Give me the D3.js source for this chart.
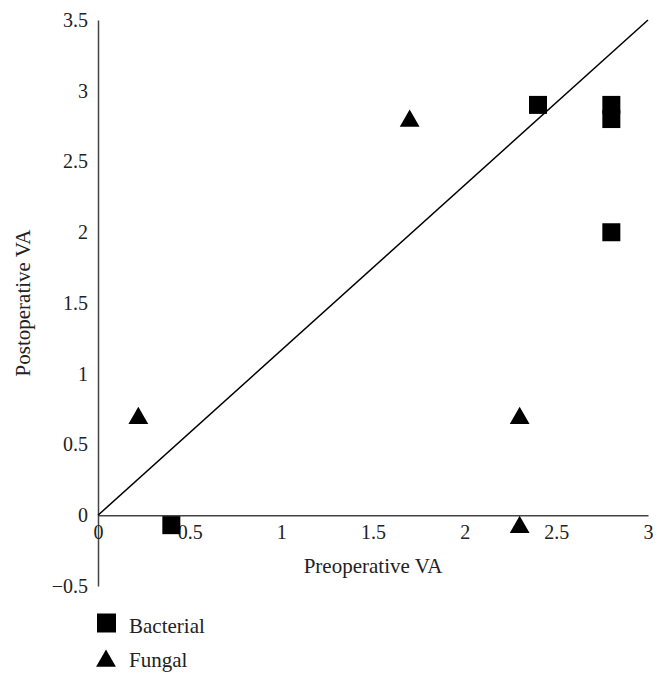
<!DOCTYPE html>
<html>
<head>
<meta charset="utf-8">
<script src="https://cdn.jsdelivr.net/npm/d3@7"></script>
<style>
  html, body { margin: 0; padding: 0; background: #fff; }
  svg { display: block; }
  svg text { font-family: "Liberation Serif", "Times New Roman", Times, serif !important; fill: #222; }
</style>
</head>
<body>
<svg id="chart" width="666" height="687"></svg>
<script>
// Data
const bacterialX = [0.4, 2.4, 2.8, 2.8, 2.8];
const bacterialY = [-0.07, 2.9, 2.9, 2.8, 2.0];
const fungalX = [0.22, 1.7, 2.3, 2.3];
const fungalY = [0.7, 2.8, 0.7, -0.07];
const xTicks = [0, 0.5, 1, 1.5, 2, 2.5, 3];
const yTicks = [-0.5, 0, 0.5, 1, 1.5, 2, 2.5, 3, 3.5];
const refLineX = [0, 3];
const refLineY = [0, 3.5];
const seriesNames = ["Bacterial", "Fungal"];

const FS = 20;
const TFS = 21;
const svg = d3.select("#chart");
const x = d3.scaleLinear().domain([0, 3]).range([98, 648]);
const y = d3.scaleLinear().domain([-0.5, 3.5]).range([586, 20]);

const axisColor = "#444";

// Y axis line (no tick marks)
const yAxis = d3.axisLeft(y).tickValues(yTicks).tickSize(0).tickPadding(10)
  .tickFormat(d => d < 0 ? "\u2212" + Math.abs(d) : String(d));
const gy = svg.append("g").attr("transform", `translate(${x(0)},0)`).call(yAxis);
gy.attr("font-family", null).attr("font-size", null);
gy.select(".domain").attr("stroke", axisColor).attr("stroke-width", 1.5);
gy.selectAll("text").attr("font-size", FS).attr("fill", "#222");

// X axis at y=0
const xAxis = d3.axisBottom(x).tickValues(xTicks).tickSize(0).tickPadding(10)
  .tickFormat(d => String(d));
const gx = svg.append("g").attr("transform", `translate(0,${y(0)})`).call(xAxis);
gx.attr("font-family", null).attr("font-size", null);
gx.select(".domain").attr("stroke", axisColor).attr("stroke-width", 1.5);
gx.selectAll("text").attr("font-size", FS).attr("fill", "#222");

// Axis titles
svg.append("text").attr("x", (x(0) + x(3)) / 2).attr("y", 573)
  .attr("text-anchor", "middle").attr("font-size", TFS).text("Preoperative VA");
svg.append("text")
  .attr("transform", `translate(30,${(y(-0.5) + y(3.5)) / 2}) rotate(-90)`)
  .attr("text-anchor", "middle").attr("font-size", TFS).text("Postoperative VA");

// Reference line
const refData = refLineX.map((v, i) => [v, refLineY[i]]);
svg.append("path").datum(refData)
  .attr("d", d3.line().x(d => x(d[0])).y(d => y(d[1])))
  .attr("stroke", "#000").attr("stroke-width", 1.5).attr("fill", "none");

// Markers
const sqSym = d3.symbol().type(d3.symbolSquare).size(18 * 18);
const triSym = d3.symbol().type(d3.symbolTriangle).size(170);

const bData = bacterialX.map((v, i) => [v, bacterialY[i]]);
svg.append("g").selectAll("path").data(bData).join("path")
  .attr("transform", d => `translate(${x(d[0])},${y(d[1])})`)
  .attr("d", sqSym).attr("fill", "#000");

const fData = fungalX.map((v, i) => [v, fungalY[i]]);
svg.append("g").selectAll("path").data(fData).join("path")
  .attr("transform", d => `translate(${x(d[0])},${y(d[1]) + 2})`)
  .attr("d", triSym).attr("fill", "#000");

// Legend
const legend = svg.append("g");
legend.append("path").attr("transform", "translate(106.5,623)")
  .attr("d", d3.symbol().type(d3.symbolSquare).size(19 * 19)).attr("fill", "#000");
legend.append("text").attr("x", 129).attr("y", 633).attr("font-size", TFS).text(seriesNames[0]);
legend.append("path").attr("transform", "translate(106,661)")
  .attr("d", triSym).attr("fill", "#000");
legend.append("text").attr("x", 129).attr("y", 667).attr("font-size", TFS).text(seriesNames[1]);
</script>
</body>
</html>
